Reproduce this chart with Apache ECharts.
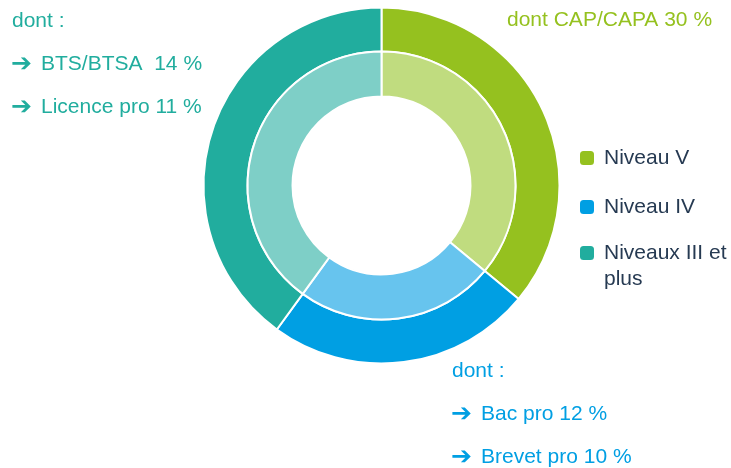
<!DOCTYPE html>
<html>
<head>
<meta charset="utf-8">
<script src="https://cdn.jsdelivr.net/npm/echarts@6/dist/echarts.min.js"></script>
<style>
  html, body { margin: 0; padding: 0; background: #fff; }
  #chart { width: 731px; height: 468px; }
</style>
</head>
<body>
<div id="chart"></div>
<script>
// niveaux de diplome (anneau exterieur et interieur, memes parts)
var niveaux = ['Niveau V', 'Niveau IV', 'Niveaux III et plus'];
var parts = [36, 24, 40];
var darkColors = ['#95c11f', '#009fe3', '#21ad9e'];
var lightColors = ['#c0dc7f', '#67c4ee', '#7ecfc7'];

// detail "dont" par niveau
var detailV = ['dont CAP/CAPA 30 %'];
var detailIV = ['dont :', 'Bac pro 12 %', 'Brevet pro 10 %'];
var detailIII = ['dont :', 'BTS/BTSA  14 %', 'Licence pro 11 %'];

var FONT = '"Liberation Sans", Arial, sans-serif';
var FS = 21;

function txt(x, y, s, color, font) {
    return {
        type: 'text',
        x: x,
        y: y,
        style: {
            text: s,
            fill: color,
            font: font || (FS + 'px ' + FONT),
            verticalAlign: 'middle'
        }
    };
}

function bloc(x, y, lines, color) {
    var els = [txt(x, y, lines[0], color)];
    for (var i = 1; i < lines.length; i++) {
        var yy = y + i * 43;
        els.push(txt(x - 1, yy, '\u2794', color, 'bold 25px "DejaVu Sans"'));
        els.push(txt(x + 29, yy, lines[i], color));
    }
    return els;
}

var legendText = {
    color: '#263a52',
    fontSize: FS,
    fontFamily: FONT,
    lineHeight: 26,
    padding: [0, 0, 0, 5]
};

var myChart = echarts.init(document.getElementById('chart'));

var option = {
    animation: false,
    legend: [
        {
            data: niveaux.slice(0, 2),
            orient: 'vertical',
            left: 580,
            top: 145,
            padding: 0,
            itemWidth: 14,
            itemHeight: 14,
            itemGap: 23,
            icon: 'roundRect',
            itemStyle: { borderWidth: 0 },
            selectedMode: false,
            textStyle: legendText
        },
        {
            data: niveaux.slice(2),
            orient: 'vertical',
            left: 580,
            top: 214,
            padding: 0,
            itemWidth: 14,
            itemHeight: 14,
            icon: 'roundRect',
            itemStyle: { borderWidth: 0 },
            selectedMode: false,
            formatter: function (name) {
                return ' \nNiveaux III et\nplus';
            },
            textStyle: legendText
        }
    ],
    series: [
        {
            type: 'pie',
            center: [381.5, 185.5],
            radius: [134, 178],
            startAngle: 90,
            clockwise: true,
            label: { show: false },
            labelLine: { show: false },
            emphasis: { disabled: true },
            itemStyle: { borderColor: '#fff', borderWidth: 2 },
            data: niveaux.map(function (n, i) {
                return { name: n, value: parts[i], itemStyle: { color: darkColors[i] } };
            })
        },
        {
            type: 'pie',
            center: [381.5, 185.5],
            radius: [89, 134],
            startAngle: 90,
            clockwise: true,
            label: { show: false },
            labelLine: { show: false },
            emphasis: { disabled: true },
            itemStyle: { borderColor: '#fff', borderWidth: 2 },
            data: niveaux.map(function (n, i) {
                return { name: n, value: parts[i], itemStyle: { color: lightColors[i] } };
            })
        }
    ],
    graphic: []
        .concat(bloc(12, 21, detailIII, darkColors[2]))
        .concat([txt(507, 20, detailV[0], darkColors[0])])
        .concat(bloc(452, 371, detailIV, darkColors[1]))
};

myChart.setOption(option);
</script>
</body>
</html>
